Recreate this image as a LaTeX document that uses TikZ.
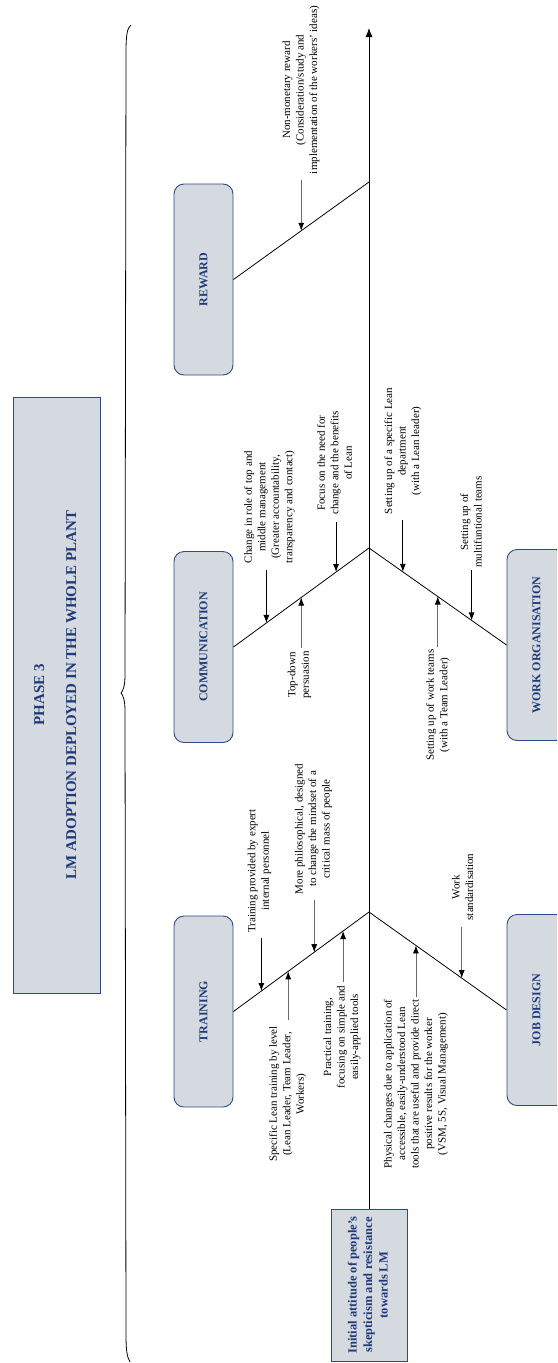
\documentclass[tikz,border=0pt]{standalone}
\usepackage{fontspec}
\setmainfont{Liberation Serif}
\usepackage{graphicx}
\usetikzlibrary{arrows.meta,calc}
\definecolor{boxfill}{HTML}{D5D9E0}
\definecolor{boxline}{HTML}{2E4A86}
\definecolor{boxtext}{HTML}{1F3A78}
\definecolor{stem}{HTML}{6A6A6A}

\begin{document}
\begin{tikzpicture}[x=1pt,y=-1pt,
  catbox/.style={draw=boxline, line width=0.9pt, fill=boxfill, rounded corners=10pt,
    minimum width=59pt, minimum height=191pt, inner sep=0pt, text=boxtext,
    font=\fontsize{12}{14}\selectfont\bfseries},
  flatbox/.style={draw=boxline, line width=0.9pt, fill=boxfill, inner sep=0pt, text=boxtext},
  note/.style={rotate=90, align=center, inner sep=0pt, font=\fontsize{11}{13.5}\selectfont},
  bone/.style={line width=0.8pt},
  cause/.style={line width=0.8pt, -{Latex[length=8pt,width=6pt]}},
  causeg/.style={line width=0.8pt, draw=stem, -{Latex[length=8pt,width=6pt,color=black]}},
]
\useasboundingbox (0,0) rectangle (557,1363);
\clip (0,0) rectangle (557,1363);

% phase title box
\node[flatbox, minimum width=87pt, minimum height=596pt,
      font=\fontsize{15}{18}\selectfont\bfseries] (phase) at (56.5,695)
  {\rotatebox{90}{\begin{tabular}{@{}c@{}}PHASE 3\\[14pt] LM ADOPTION DEPLOYED IN THE WHOLE PLANT\end{tabular}}};

% brace
\draw[line width=0.8pt] (131,25) .. controls (127,28) and (126,36) .. (126,52)
  -- (125,675) .. controls (125,686) and (123,691) .. (121,693)
  .. controls (123,695) and (125,700) .. (125,711)
  -- (126,1335) .. controls (126,1350) and (127,1357) .. (130,1362);

% effect box and main axis
\node[flatbox, minimum width=76pt, minimum height=152pt,
      font=\fontsize{12.5}{15.5}\selectfont\bfseries] (init) at (369,1285)
  {\rotatebox{90}{\begin{tabular}{@{}c@{}}Initial attitude of people’s\\skepticism and resistance\\towards LM\end{tabular}}};

\coordinate (jR) at (369,182);
\coordinate (jU) at (369,548);
\coordinate (jL) at (369,912);
\coordinate (top) at (369,28);
\draw[line width=0.8pt, -{Latex[length=9pt,width=7pt]}] (init.north) -- (top);

% category boxes
\node[catbox] (reward) at (203.5,279.5) {\rotatebox{90}{REWARD}};
\node[catbox] (comm) at (203.5,647) {\rotatebox{90}{COMMUNICATION}};
\node[catbox] (train) at (203.5,1011.5) {\rotatebox{90}{TRAINING}};
\node[catbox] (worg) at (536.5,645) {\rotatebox{90}{WORK ORGANISATION}};
\node[catbox] (job) at (536.5,1010) {\rotatebox{90}{JOB DESIGN}};

% bones
\draw[bone] (jR) -- (reward.east);
\draw[bone] (jU) -- (comm.east);
\draw[bone] (jU) -- (worg.west);
\draw[bone] (jL) -- (train.east);
\draw[bone] (jL) -- (job.west);

% cause labels
\node[note] (n1) at (301,90) {Non-monetary reward\\(Consideration/study and\\implementation of the workers’ ideas)};
\node[note] (n2) at (269.5,507) {Change in role of top and\\middle management\\(Greater accountability,\\transparency and contact)};
\node[note] (n3) at (334.5,463) {Focus on the need for\\change and the benefits\\of Lean};
\node[note] (n4) at (299.5,675) {Top-down\\persuasion};
\node[note] (n5) at (403,451) {Setting up of a specific Lean\\department\\(with a Lean leader)};
\node[note] (n6) at (471,522) {Setting up of\\multifuntional teams};
\node[note] (n7) at (438,705) {Setting up of work teams\\(with a Team Leader)};
\node[note] (n8) at (259.5,871) {Training provided by expert\\internal personnel};
\node[note] (n9) at (313.5,829) {More philosophical, designed\\to change the mindset of a\\critical mass of people};
\node[note] (n10) at (287.7,1094) {Specific Lean training by level\\(Lean Leader, Team Leader,\\Workers)};
\node[note] (n11) at (342,1037) {Practical training,\\focusing on simple and\\easily-applied tools};
\node[note] (n12) at (416,1084) {Physical changes due to application of\\accessible, easily-understood Lean\\tools that are useful and provide direct\\positive results for the worker\\(VSM, 5S, Visual Management)};
\node[note] (n13) at (462.5,887) {Work\\standardisation};

% arrow heads on the bones
\coordinate (t1) at ($(jR)!0.5!(reward.east)$);
\coordinate (t2) at ($(jU)!0.757!(comm.east)$);
\coordinate (t3) at ($(jU)!0.243!(comm.east)$);
\coordinate (t4) at ($(jU)!0.5!(comm.east)$);
\coordinate (t5) at ($(jU)!0.246!(worg.west)$);
\coordinate (t6) at ($(jU)!0.746!(worg.west)$);
\coordinate (t7) at ($(jU)!0.5!(worg.west)$);
\coordinate (t8) at ($(jL)!0.794!(train.east)$);
\coordinate (t9) at ($(jL)!0.404!(train.east)$);
\coordinate (t10) at ($(jL)!0.596!(train.east)$);
\coordinate (t11) at ($(jL)!0.191!(train.east)$);
\coordinate (t12) at ($(jL)!0.341!(job.west)$);
\coordinate (t13) at ($(jL)!0.674!(job.west)$);

% arrow tails
\coordinate (s1) at (t1 |- 0,180);
\coordinate (s2) at (t2 |- 0,570);
\coordinate (s3) at (t3 |- 0,522);
\coordinate (s4) at (t4 |- 0,648);
\coordinate (s5) at (t5 |- 0,520);
\coordinate (s6) at (t6 |- 0,570);
\coordinate (s7) at (t7 |- 0,647);
\coordinate (s8) at (t8 |- 0,938);
\coordinate (s9) at (t9 |- 0,900);
\coordinate (s10) at (t10 |- 0,1020);
\coordinate (s11) at (t11 |- 0,982);
\coordinate (s12) at (t12 |- 0,997);
\coordinate (s13) at (t13 |- 0,927);

\draw[causeg] (s1) -- (t1);
\draw[cause] (s2) -- (t2);
\draw[cause] (s3) -- (t3);
\draw[causeg] (s4) -- (t4);
\draw[cause] (s5) -- (t5);
\draw[cause] (s6) -- (t6);
\draw[causeg] (s7) -- (t7);
\draw[cause] (s8) -- (t8);
\draw[causeg] (s9) -- (t9);
\draw[causeg] (s10) -- (t10);
\draw[causeg] (s11) -- (t11);
\draw[causeg] (s12) -- (t12);
\draw[causeg] (s13) -- (t13);
\end{tikzpicture}
\end{document}
